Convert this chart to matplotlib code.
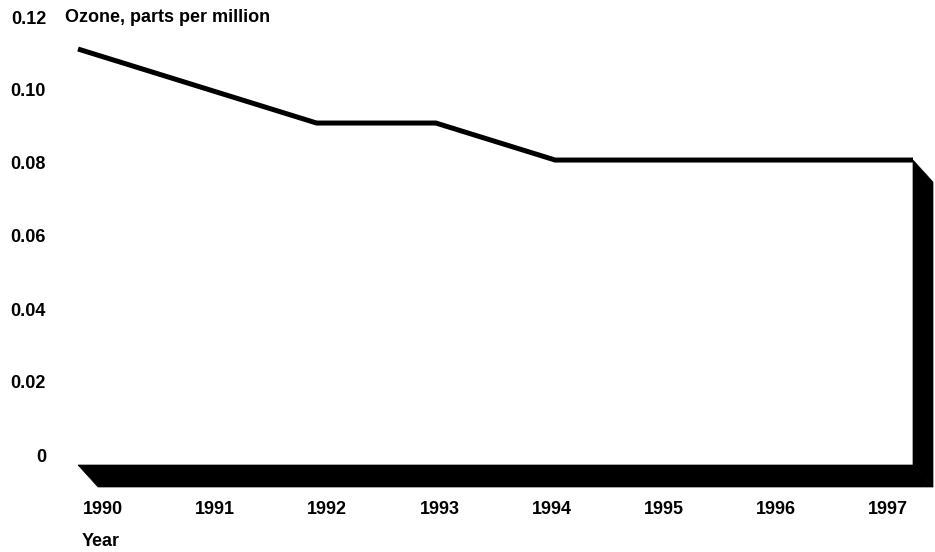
import matplotlib
matplotlib.use("Agg")
import matplotlib.pyplot as plt
import matplotlib.transforms as mtransforms
from matplotlib.patches import Polygon

plt.rcParams['font.family'] = ['Liberation Sans', 'DejaVu Sans']
plt.rcParams['font.weight'] = 'bold'

years = [1990, 1991, 1992, 1993, 1994, 1995, 1996, 1997]
ozone = [0.11, 0.10, 0.09, 0.09, 0.08, 0.08, 0.08, 0.08]
y_ticks = [0, 0.02, 0.04, 0.06, 0.08, 0.10, 0.12]
y_labels = ['0', '0.02', '0.04', '0.06', '0.08', '0.10', '0.12']

W, H = 935, 552
fig = plt.figure(figsize=(W / 100, H / 100), dpi=100)

# plot area (pixels): 1990 -> 78, 1997 -> 913; floor top at 465, 0.12 -> 12
y_floor = -0.0024
ax = fig.add_axes([78 / W, (H - 465) / H, (913 - 78) / W, (465 - 12) / H])
ax.set_xlim(years[0], years[-1])
ax.set_ylim(y_floor, 0.12)
ax.axis('off')

# 3D depth offset for floor and wall
depth = mtransforms.ScaledTranslation(20 / 100, -22 / 100, fig.dpi_scale_trans)
x0, x1 = years[0], years[-1]
top = ozone[-1]


def shifted(p):
    disp = (ax.transData + depth).transform(p)
    return tuple(ax.transData.inverted().transform(disp))


floor_poly = [(x0, y_floor), (x1, y_floor), shifted((x1, y_floor)), shifted((x0, y_floor))]
wall_poly = [(x1, top), shifted((x1, top)), shifted((x1, y_floor)), (x1, y_floor)]
for poly in (floor_poly, wall_poly):
    ax.add_patch(Polygon(poly, closed=True, facecolor='black', edgecolor='black',
                         lw=0.5, clip_on=False))

ax.plot(years, ozone, color='black', lw=3.6, solid_joinstyle='miter',
        solid_capstyle='butt', clip_on=False)

# tick label axes (labels sit on their own grid, as in the original)
lab = fig.add_axes([103 / W, (H - 455) / H, (888 - 103) / W, (455 - 17) / H])
lab.patch.set_visible(False)
lab.set_xlim(years[0], years[-1])
lab.set_ylim(0, 0.12)
for s in lab.spines.values():
    s.set_visible(False)
lab.set_xticks(years)
lab.set_xticklabels([str(y) for y in years])
lab.set_yticks(y_ticks)
lab.set_yticklabels(y_labels)
lab.tick_params(axis='both', length=0, labelsize=13)
lab.tick_params(axis='x', pad=33)
lab.tick_params(axis='y', pad=41)

fig.text(65 / W, 1 - 17 / H, 'Ozone, parts per million', fontsize=13,
         fontweight='bold', va='center', ha='left')
fig.text(82 / W, 1 - 541 / H, 'Year', fontsize=13, fontweight='bold',
         va='center', ha='left')

fig.savefig('out.png', dpi=100)
